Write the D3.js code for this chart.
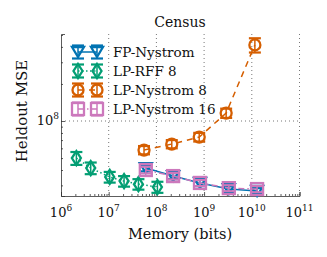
<!DOCTYPE html>
<html><head><meta charset="utf-8">
<script src="https://cdn.jsdelivr.net/npm/d3@7"></script>
<style>body{margin:0;background:#fff}svg{display:block}text{font-family:"DejaVu Serif",serif;fill:#111}</style>
</head><body>
<svg id="c" width="327" height="257"></svg>
<script>
const seriesNames = ["FP-Nystrom","LP-RFF 8","LP-Nystrom 8","LP-Nystrom 16"];
const colors = ["#0173B2","#029E73","#D55E00","#CC78BC"];
const fpX = [6.0e7, 2.24e8, 8.2e8, 3.3e9, 1.29e10];
const fpY = [4.15e7, 3.57e7, 3.14e7, 2.8e7, 2.7e7];
const fpErr = [2.5e6, 2.0e6, 1.8e6, 1.5e6, 1.5e6];
const rffX = [2.1e6, 4.2e6, 1.05e7, 2.1e7, 4.2e7, 1.05e8];
const rffY = [5.0e7, 4.15e7, 3.51e7, 3.25e7, 3.07e7, 2.91e7];
const rffErr = [6.0e6, 4.5e6, 3.5e6, 3.2e6, 3.0e6, 3.0e6];
const lp8X = [5.5e7, 2.1e8, 7.9e8, 2.9e9, 1.16e10];
const lp8Y = [5.81e7, 6.5e7, 7.41e7, 1.16e8, 4.15e8];
const lp8Err = [4.5e6, 5e6, 6e6, 1.0e7, 5.5e7];
const lp16X = [6.0e7, 2.24e8, 8.2e8, 3.3e9, 1.29e10];
const lp16Y = [4.0e7, 3.57e7, 3.14e7, 2.85e7, 2.8e7];
const lp16Err = [2.5e6, 2.2e6, 1.8e6, 1.6e6, 1.6e6];
const xTicks = [1e6,1e7,1e8,1e9,1e10,1e11];
const xTickExp = ["6","7","8","9","10","11"];
const yTicks = [1e8];
const yTickExp = ["8"];

const svg = d3.select("#c");
const L=61,R=299.5,T=34,B=196;
const x = d3.scaleLog().domain([1e6,1e11]).range([L,R]);
const y = d3.scaleLog().domain([2.46e7,5.09e8]).range([B,T]);

// grid
const g = svg.append("g");
xTicks.slice(1).forEach(v=>g.append("line").attr("x1",x(v)).attr("x2",x(v)).attr("y1",T).attr("y2",B)
  .attr("stroke","#777").attr("stroke-width",1).attr("stroke-dasharray","1,3"));
yTicks.forEach(v=>g.append("line").attr("x1",L).attr("x2",R).attr("y1",y(v)).attr("y2",y(v))
  .attr("stroke","#777").attr("stroke-width",1).attr("stroke-dasharray","1,3"));

// axes with inward ticks
const xAx = d3.axisTop(x).tickValues(xTicks).tickSize(4).tickFormat("");
svg.append("g").attr("transform",`translate(0,${B})`).call(xAx);
const xMinor = [];
for(let e=6;e<11;e++) for(let k=2;k<10;k++) xMinor.push(k*Math.pow(10,e));
svg.append("g").attr("transform",`translate(0,${B})`).call(d3.axisTop(x).tickValues(xMinor).tickSize(2).tickFormat("")).select(".domain").remove();
const yAx = d3.axisRight(y).tickValues(yTicks).tickSize(4).tickFormat("");
svg.append("g").attr("transform",`translate(${L},0)`).call(yAx);
const yMinor = [3e7,4e7,5e7,6e7,7e7,8e7,9e7,2e8,3e8,4e8,5e8];
svg.append("g").attr("transform",`translate(${L},0)`).call(d3.axisRight(y).tickValues(yMinor).tickSize(2).tickFormat("")).select(".domain").remove();
svg.selectAll(".domain").attr("stroke","#333").attr("stroke-width",0.8);
svg.selectAll(".tick line").attr("stroke","#333").attr("stroke-width",0.8);

// tick labels
xTicks.forEach((v,i)=>{
  const t = svg.append("text").attr("x",x(v)).attr("y",217).attr("text-anchor","middle").style("font-size","13px");
  t.append("tspan").text("10");
  t.append("tspan").attr("dy",-6).style("font-size","9px").text(xTickExp[i]);
});
yTicks.forEach((v,i)=>{
  const t = svg.append("text").attr("x",L-2).attr("y",y(v)+4).attr("text-anchor","end").style("font-size","13px");
  t.append("tspan").text("10");
  t.append("tspan").attr("dy",-6).style("font-size","9px").text(yTickExp[i]);
});

// labels
svg.append("text").attr("x",180).attr("y",27).attr("text-anchor","middle").style("font-size","14px").text("Census");
svg.append("text").attr("x",180).attr("y",239).attr("text-anchor","middle").style("font-size","14.5px").text("Memory (bits)");
svg.append("text").attr("transform","translate(27,111) rotate(-90)").attr("text-anchor","middle").style("font-size","15px").text("Heldout MSE");

const dashes = [null,"1.5,2.5","6,5","6,3,1.5,3"];
const shapes = ["tri","dia","circ","sq"];
function marker(sel,shape,cx,cy,col){
  const s=sel.append("g").attr("transform",`translate(${cx},${cy})`).attr("fill","none").attr("stroke",col).attr("stroke-width",2.3);
  if(shape==="tri") s.append("path").attr("d","M-6,-5L6,-5L0,5Z");
  if(shape==="dia") s.append("path").attr("d","M0,-7L4.5,0L0,7L-4.5,0Z");
  if(shape==="circ") s.append("circle").attr("r",5.5);
  if(shape==="sq") s.append("rect").attr("x",-6).attr("y",-6).attr("width",12).attr("height",12);
}
function errbar(sel,cx,y0,y1,col){
  sel.append("line").attr("x1",cx).attr("x2",cx).attr("y1",y0).attr("y2",y1).attr("stroke",col).attr("stroke-width",1.5);
  [y0,y1].forEach(yy=>sel.append("line").attr("x1",cx-6).attr("x2",cx+6).attr("y1",yy).attr("y2",yy).attr("stroke",col).attr("stroke-width",2.2));
}
const all = [[fpX,fpY,fpErr],[rffX,rffY,rffErr],[lp8X,lp8Y,lp8Err],[lp16X,lp16Y,lp16Err]];
const order=[2,1,0,3];
order.forEach(i=>{
  const [xs,ys,es]=all[i];
  const d = xs.map((v,j)=>({x:v,y:ys[j],e:es[j]}));
  const gs = svg.append("g");
  gs.append("path").datum(d).attr("d",d3.line().x(p=>x(p.x)).y(p=>y(p.y)))
    .attr("fill","none").attr("stroke",colors[i]).attr("stroke-width",1.5).attr("stroke-dasharray",dashes[i]);
  d.forEach(p=>{
    errbar(gs,x(p.x),y(p.y+p.e),y(p.y-p.e),colors[i]);
    marker(gs,shapes[i],x(p.x),y(p.y),colors[i]);
  });
});

// legend
seriesNames.forEach((n,i)=>{
  const yy = 52 + i*19;
  const lg = svg.append("g");
  lg.append("line").attr("x1",78).attr("x2",97).attr("y1",yy).attr("y2",yy).attr("stroke",colors[i]).attr("stroke-width",1.5).attr("stroke-dasharray",dashes[i]);
  [78,97].forEach(cx=>{errbar(lg,cx,yy-6.5,yy+6.5,colors[i]);marker(lg,shapes[i],cx,yy,colors[i]);});
  lg.append("text").attr("x",113).attr("y",yy+5).style("font-size","13.5px").text(n);
});
</script>
</body></html>
